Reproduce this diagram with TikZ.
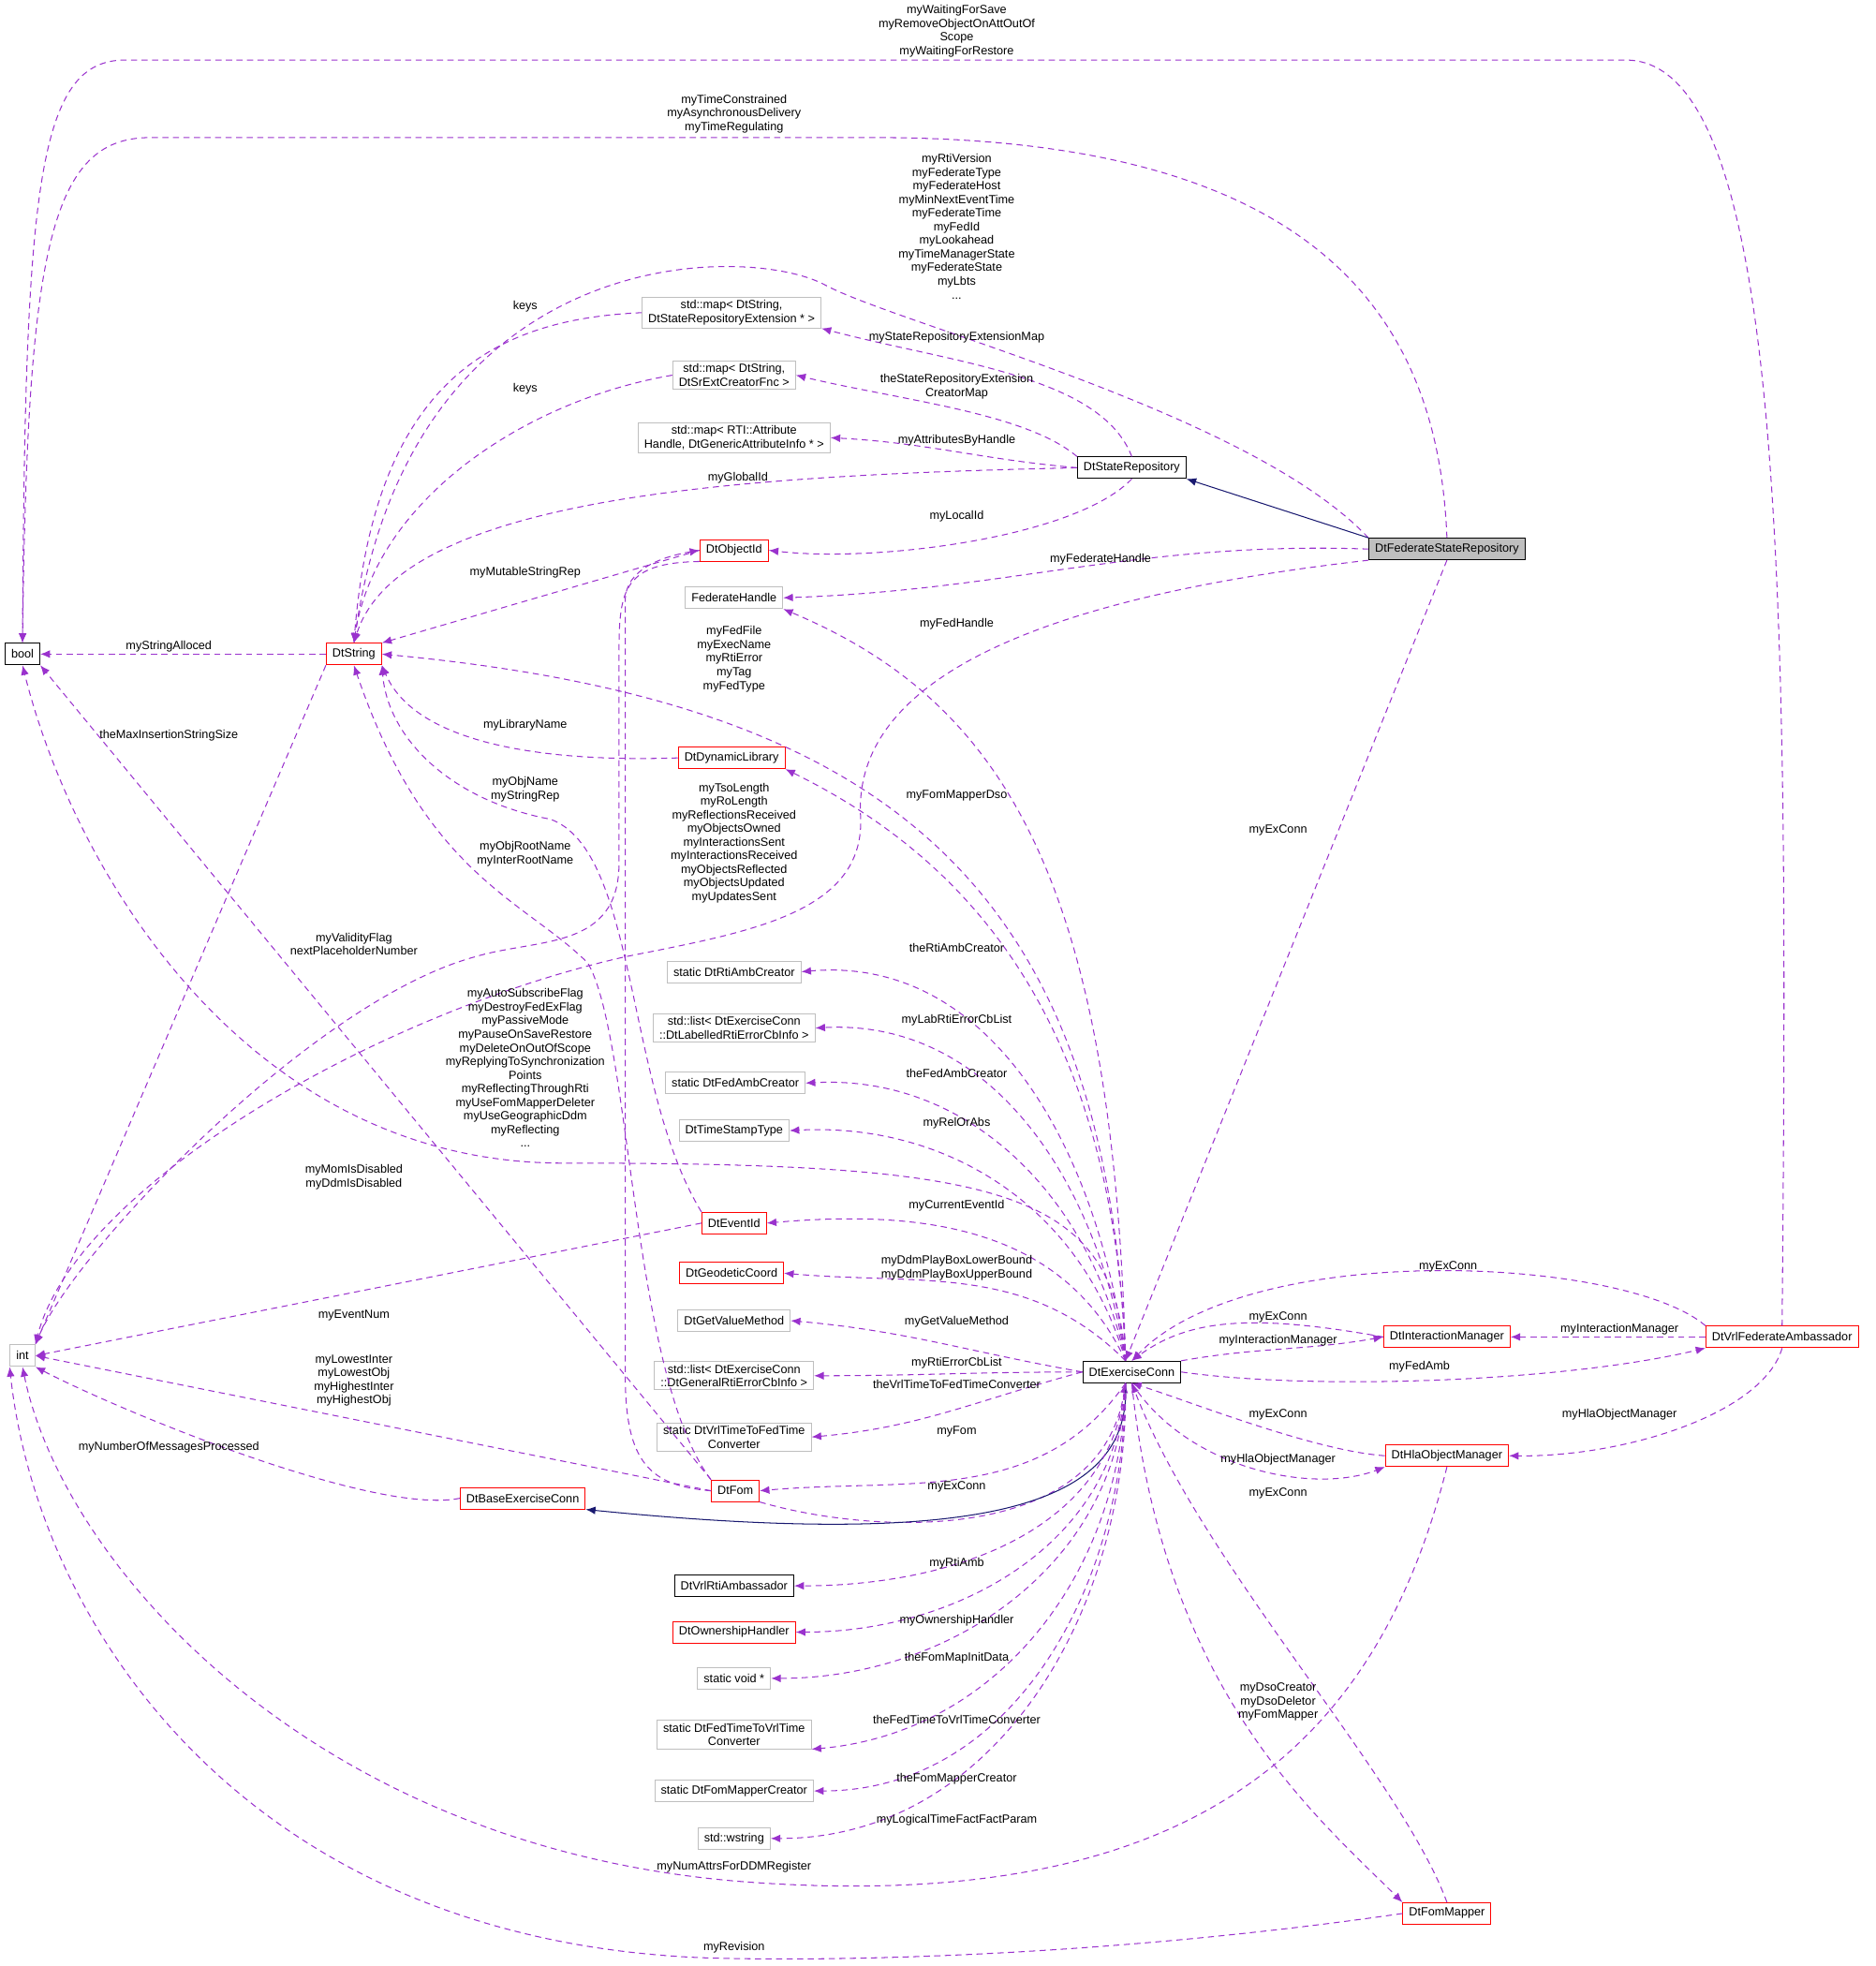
\documentclass[tikz,border=0pt]{standalone}
\usepackage{fontspec}
\setmainfont{Liberation Sans}
\usetikzlibrary{arrows.meta}
\definecolor{edgepurple}{HTML}{9A32CD}
\definecolor{inhblue}{HTML}{191970}
\definecolor{boxgray}{HTML}{BFBFBF}
\tikzset{
  cls/.style={draw=black, line width=1pt, inner xsep=7pt, minimum height=8.6mm, font=\fontsize{13.5}{15.5}\selectfont, align=center},
  cgray/.style={cls, draw=boxgray},
  cred/.style={cls, draw=red},
  cfsr/.style={cls, fill=boxgray},
  use/.style={draw=edgepurple, line width=1.1pt, dash pattern=on 7pt off 5pt, -{Latex[length=11pt,width=9pt]}},
  inh/.style={draw=inhblue, line width=1.1pt, -{Latex[length=11pt,width=9pt]}},
  lbl/.style={font=\fontsize{13.5}{15.5}\selectfont, align=center, inner sep=0pt}
}
\begin{document}
\begin{tikzpicture}[x=0.5mm, y=-0.5mm]
\useasboundingbox (0,0) rectangle (1500,1572);
% classes
\node[cls] (bool) at (18,523) {bool};
\node[cgray] (int) at (18,1084) {int};
\node[cred] (dtstring) at (283,523) {DtString};
\node[cgray] (mapext) at (585,250) {std::map< DtString,\\ DtStateRepositoryExtension * >};
\node[cgray] (mapcreator) at (587,300) {std::map< DtString,\\ DtSrExtCreatorFnc >};
\node[cgray] (mapattr) at (587,350) {std::map< RTI::Attribute\\Handle, DtGenericAttributeInfo * >};
\node[cls] (staterepo) at (905,374) {DtStateRepository};
\node[cfsr] (fedstaterepo) at (1157,439) {DtFederateStateRepository};
\node[cred] (objid) at (587,440) {DtObjectId};
\node[cgray] (fedhandle) at (587,478) {FederateHandle};
\node[cred] (dynlib) at (585,606) {DtDynamicLibrary};
\node[cgray] (rtiambcr) at (587,777) {static DtRtiAmbCreator};
\node[cgray] (lablist) at (587,822) {std::list< DtExerciseConn\\::DtLabelledRtiErrorCbInfo >};
\node[cgray] (fedambcr) at (588,866) {static DtFedAmbCreator};
\node[cgray] (tstype) at (587,904) {DtTimeStampType};
\node[cred] (eventid) at (587,978) {DtEventId};
\node[cred] (geocoord) at (585,1018) {DtGeodeticCoord};
\node[cgray] (getval) at (587,1056) {DtGetValueMethod};
\node[cgray] (genlist) at (587,1100) {std::list< DtExerciseConn\\::DtGeneralRtiErrorCbInfo >};
\node[cgray] (vrltofed) at (587,1149) {static DtVrlTimeToFedTime\\Converter};
\node[cred] (fom) at (588,1192) {DtFom};
\node[cred] (baseexconn) at (418,1198) {DtBaseExerciseConn};
\node[cls] (rtiamb) at (587,1268) {DtVrlRtiAmbassador};
\node[cred] (ownhandler) at (587,1305) {DtOwnershipHandler};
\node[cgray] (voidp) at (587,1342) {static void *};
\node[cgray] (fedtovrl) at (587,1387) {static DtFedTimeToVrlTime\\Converter};
\node[cgray] (fommapcr) at (587,1432) {static DtFomMapperCreator};
\node[cgray] (wstring) at (587,1470) {std::wstring};
\node[cls] (exconn) at (905,1097) {DtExerciseConn};
\node[cred] (interman) at (1157,1069) {DtInteractionManager};
\node[cred] (vrlfedamb) at (1425,1069) {DtVrlFederateAmbassador};
\node[cred] (hlaobjman) at (1157,1164) {DtHlaObjectManager};
\node[cred] (fommapper) at (1157,1530) {DtFomMapper};
\coordinate (exctop) at (900,1088);
\coordinate (excbot) at (900,1106);

% long edges at the top
\draw[use] (vrlfedamb.north) .. controls (1430,500) and (1430,48) .. (1300,48) -- (100,48) .. controls (30,48) and (20,150) .. (bool.north);
\draw[use] (fedstaterepo.north) .. controls (1150,250) and (1050,110) .. (700,110) -- (120,110) .. controls (40,110) and (22,200) .. (bool.north);
\draw[use] (fedstaterepo.north west) .. controls (1000,330) and (720,260) .. (660,228) .. controls (600,195) and (330,190) .. (dtstring.north);
\draw[inh] (fedstaterepo.north west) -- (staterepo.south east);
\draw[use] (fedstaterepo.west) to[out=178,in=2] (fedhandle.east);
\draw[use] (fedstaterepo.south) -- (exctop);
\draw[use] (fedstaterepo.south west) .. controls (900,470) and (684,520) .. (688,650) .. controls (694,730) and (600,745) .. (500,765) .. controls (300,810) and (60,950) .. (int.north east);

% state repository
\draw[use] (staterepo.north) .. controls (880,300) and (760,290) .. (mapext.south east);
\draw[use] (staterepo.north west) .. controls (820,330) and (720,320) .. (mapcreator.east);
\draw[use] (staterepo.west) to[out=175,in=-3] (mapattr.east);
\draw[use] (staterepo.west) .. controls (600,380) and (320,395) .. (dtstring.north);
\draw[use] (staterepo.south) .. controls (860,430) and (700,450) .. (objid.east);

% DtString and friends
\draw[use] (dtstring) -- (bool);
\draw[use] (dtstring.south west) -- (int.north east);
\draw[use] (mapext.west) .. controls (400,255) and (300,300) .. (dtstring.north);
\draw[use] (mapcreator.west) .. controls (420,320) and (300,400) .. (dtstring.north);
\draw[use] (objid.west) -- (dtstring.north east);
\draw[use] (dynlib.west) .. controls (420,610) and (330,590) .. (dtstring.south east);
\draw[use] (eventid.north west) .. controls (500,870) and (510,680) .. (440,655) .. controls (360,640) and (310,590) .. (dtstring.south east);
\draw[use] (fom.north west) .. controls (505,1100) and (505,830) .. (470,770) .. controls (420,720) and (340,700) .. (dtstring.south);
\draw[use] (objid.south west) .. controls (500,450) and (495,470) .. (495,520) -- (495,690) .. controls (495,760) and (430,750) .. (380,765) .. controls (250,800) and (60,1000) .. (int.north east);
\draw[use] (fom.west) .. controls (520,1188) and (500,1170) .. (500,1100) -- (500,480) .. controls (500,455) and (530,445) .. (objid.west);
\draw[use] (eventid.west) -- (int.east);
\draw[use] (fom.west) -- (int.east);
\draw[use] (fom.north west) -- (bool.south east);
\draw[use] (baseexconn.west) .. controls (300,1212) and (100,1130) .. (int.south east);

% exercise connection, upper targets
\draw[use] (exctop) .. controls (885,700) and (700,560) .. (dtstring.east);
\draw[use] (exctop) .. controls (890,700) and (800,560) .. (fedhandle.south east);
\draw[use] (exctop) .. controls (890,800) and (760,680) .. (dynlib.south east);
\draw[use] (exctop) .. controls (890,950) and (800,930) .. (450,930) .. controls (200,930) and (60,700) .. (bool.south);
\draw[use] (exctop) to[out=97,in=5] (rtiambcr.east);
\draw[use] (exctop) to[out=99,in=3] (lablist.east);
\draw[use] (exctop) to[out=102,in=3] (fedambcr.east);
\draw[use] (exctop) to[out=106,in=3] (tstype.east);
\draw[use] (exctop) to[out=115,in=5] (eventid.east);
\draw[use] (exctop) to[out=135,in=-5] (geocoord.east);
\draw[use] (exconn.west) to[out=170,in=-5] (getval.east);
\draw[use] (exconn.west) to[out=180,in=0] (genlist.east);
\draw[use] (exconn.west) to[out=195,in=5] (vrltofed.east);
\draw[use] (excbot) to[out=-125,in=5] (fom.east);
\draw[use] (fom.south east) .. controls (700,1228) and (880,1235) .. (excbot);
\draw[inh] (excbot) .. controls (905,1200) and (800,1240) .. (baseexconn.south east);
% exercise connection, lower targets
\draw[use] (excbot) to[out=-95,in=0] (rtiamb.east);
\draw[use] (excbot) to[out=-93,in=0] (ownhandler.east);
\draw[use] (excbot) to[out=-92,in=0] (voidp.east);
\draw[use] (excbot) to[out=-91,in=5] (fedtovrl.south east);
\draw[use] (excbot) to[out=-90,in=0] (fommapcr.east);
\draw[use] (excbot) to[out=-89,in=0] (wstring.east);

% managers
\draw[use] (interman.west) .. controls (1000,1050) and (950,1055) .. (exconn.north);
\draw[use] (exconn.north east) to[out=10,in=190] (interman.west);
\draw[use] (exconn.east) .. controls (1050,1112) and (1250,1105) .. (vrlfedamb.south west);
\draw[use] (vrlfedamb.north west) .. controls (1300,1005) and (1000,990) .. (exconn.north);
\draw[use] (vrlfedamb) -- (interman);
\draw[use] (vrlfedamb.south) .. controls (1410,1130) and (1300,1165) .. (hlaobjman.east);
\draw[use] (hlaobjman.west) .. controls (1050,1160) and (950,1120) .. (exconn.south);
\draw[use] (exconn.south) .. controls (950,1175) and (1050,1195) .. (hlaobjman.south west);
\draw[use] (hlaobjman.south) .. controls (1100,1400) and (950,1530) .. (600,1505) .. controls (250,1480) and (50,1250) .. (int.south);
\draw[use] (fommapper.west) .. controls (900,1562) and (700,1568) .. (587,1566) .. controls (200,1562) and (30,1300) .. (int.south west);
\draw[use] (fommapper.north) .. controls (1120,1420) and (960,1250) .. (exconn.south);
\draw[use] (exconn.south) .. controls (930,1350) and (1050,1450) .. (fommapper.north west);

% edge labels
\node[lbl] (lwaitsave) at (765,25) {myWaitingForSave\\myRemoveObjectOnAttOutOf\\Scope\\myWaitingForRestore};
\node[lbl] (ltimecons) at (587,91) {myTimeConstrained\\myAsynchronousDelivery\\myTimeRegulating};
\node[lbl] (lrtiversion) at (765,181) {myRtiVersion\\myFederateType\\myFederateHost\\myMinNextEventTime\\myFederateTime\\myFedId\\myLookahead\\myTimeManagerState\\myFederateState\\myLbts\\...};
\node[lbl] (lkeysa) at (420,245) {keys};
\node[lbl] (lkeysb) at (420,311) {keys};
\node[lbl] (lextmap) at (765,270) {myStateRepositoryExtensionMap};
\node[lbl] (lcreatormap) at (765,309) {theStateRepositoryExtension\\CreatorMap};
\node[lbl] (lattrs) at (765,352) {myAttributesByHandle};
\node[lbl] (lglobalid) at (590,382) {myGlobalId};
\node[lbl] (llocalid) at (765,413) {myLocalId};
\node[lbl] (lfedhandleb) at (880,447) {myFederateHandle};
\node[lbl] (lmutable) at (420,458) {myMutableStringRep};
\node[lbl] (lfedhandle) at (765,499) {myFedHandle};
\node[lbl] (lfedfile) at (587,527) {myFedFile\\myExecName\\myRtiError\\myTag\\myFedType};
\node[lbl] (lstralloc) at (135,517) {myStringAlloced};
\node[lbl] (lmaxins) at (135,588) {theMaxInsertionStringSize};
\node[lbl] (llibname) at (420,580) {myLibraryName};
\node[lbl] (lobjname) at (420,631) {myObjName\\myStringRep};
\node[lbl] (lfommapdso) at (765,636) {myFomMapperDso};
\node[lbl] (lobjroot) at (420,683) {myObjRootName\\myInterRootName};
\node[lbl] (ltso) at (587,674) {myTsoLength\\myRoLength\\myReflectionsReceived\\myObjectsOwned\\myInteractionsSent\\myInteractionsReceived\\myObjectsReflected\\myObjectsUpdated\\myUpdatesSent};
\node[lbl] (lvalidity) at (283,755) {myValidityFlag\\nextPlaceholderNumber};
\node[lbl] (lrtiambcr) at (765,758) {theRtiAmbCreator};
\node[lbl] (lautosub) at (420,854) {myAutoSubscribeFlag\\myDestroyFedExFlag\\myPassiveMode\\myPauseOnSaveRestore\\myDeleteOnOutOfScope\\myReplyingToSynchronization\\Points\\myReflectingThroughRti\\myUseFomMapperDeleter\\myUseGeographicDdm\\myReflecting\\...};
\node[lbl] (llablist) at (765,816) {myLabRtiErrorCbList};
\node[lbl] (lfedambcr) at (765,858) {theFedAmbCreator};
\node[lbl] (lrelabs) at (765,898) {myRelOrAbs};
\node[lbl] (lmomdis) at (283,941) {myMomIsDisabled\\myDdmIsDisabled};
\node[lbl] (lcureventid) at (765,964) {myCurrentEventId};
\node[lbl] (lplaybox) at (765,1014) {myDdmPlayBoxLowerBound\\myDdmPlayBoxUpperBound};
\node[lbl] (leventnum) at (283,1052) {myEventNum};
\node[lbl] (lgetval) at (765,1057) {myGetValueMethod};
\node[lbl] (lrtierr) at (765,1090) {myRtiErrorCbList};
\node[lbl] (lvrltofed) at (765,1107) {theVrlTimeToFedTimeConverter};
\node[lbl] (llowest) at (283,1104) {myLowestInter\\myLowestObj\\myHighestInter\\myHighestObj};
\node[lbl] (lmyfom) at (765,1145) {myFom};
\node[lbl] (lnummsg) at (135,1157) {myNumberOfMessagesProcessed};
\node[lbl] (lexconnfom) at (765,1189) {myExConn};
\node[lbl] (lrtiamb) at (765,1250) {myRtiAmb};
\node[lbl] (lownhandler) at (765,1296) {myOwnershipHandler};
\node[lbl] (lmapinit) at (765,1326) {theFomMapInitData};
\node[lbl] (lfedtovrl) at (765,1375) {theFedTimeToVrlTimeConverter};
\node[lbl] (lfommapcr) at (765,1422) {theFomMapperCreator};
\node[lbl] (lfactparam) at (765,1455) {myLogicalTimeFactFactParam};
\node[lbl] (lnumattrs) at (587,1493) {myNumAttrsForDDMRegister};
\node[lbl] (lrevision) at (587,1557) {myRevision};
\node[lbl] (lexconnfsr) at (1022,664) {myExConn};
\node[lbl] (lexconnvrl) at (1158,1013) {myExConn};
\node[lbl] (lexconnim) at (1022,1053) {myExConn};
\node[lbl] (linterman) at (1022,1072) {myInteractionManager};
\node[lbl] (lintermanb) at (1295,1063) {myInteractionManager};
\node[lbl] (lfedamb) at (1135,1093) {myFedAmb};
\node[lbl] (lexconnhla) at (1022,1131) {myExConn};
\node[lbl] (lhlaobjman) at (1295,1131) {myHlaObjectManager};
\node[lbl] (lhlaobjmanb) at (1022,1167) {myHlaObjectManager};
\node[lbl] (lexconnfm) at (1022,1194) {myExConn};
\node[lbl] (ldso) at (1022,1361) {myDsoCreator\\myDsoDeletor\\myFomMapper};
\end{tikzpicture}
\end{document}
